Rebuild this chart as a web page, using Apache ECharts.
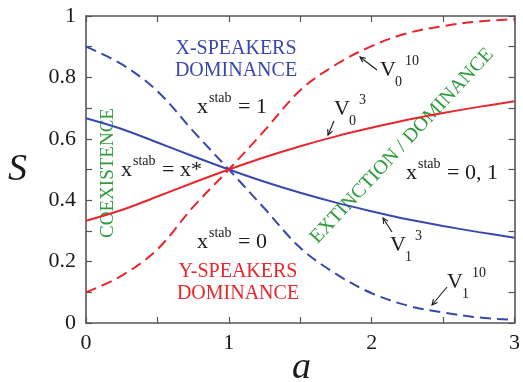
<!DOCTYPE html>
<html>
<head>
<meta charset="utf-8">
<script src="https://cdn.jsdelivr.net/npm/echarts@6/dist/echarts.min.js"></script>
<style>
html,body{margin:0;padding:0;background:#fff;}
#chart{width:523px;height:382px;}
</style>
</head>
<body>
<div id="chart"></div>
<script>
// ---- data ----
const aValues = [0, 0.25, 0.5, 0.75, 1, 1.25, 1.5, 1.75, 2, 2.25, 2.5, 2.75, 3];
const V0_3  = [0.333, 0.368, 0.412, 0.457, 0.5, 0.540, 0.576, 0.608, 0.636, 0.662, 0.684, 0.704, 0.722];
const V1_3  = [0.667, 0.632, 0.588, 0.543, 0.5, 0.460, 0.424, 0.392, 0.364, 0.338, 0.316, 0.296, 0.278];
const V0_10 = [0.10, 0.154, 0.24, 0.378, 0.5, 0.627, 0.758, 0.842, 0.902, 0.944, 0.967, 0.982, 0.99];
const V1_10 = [0.90, 0.843, 0.755, 0.625, 0.5, 0.373, 0.245, 0.16, 0.097, 0.057, 0.034, 0.018, 0.01];
const xTickLabels = ['0', '1', '2', '3'];
const yTickLabels = ['0', '0.2', '0.4', '0.6', '0.8', '1'];

const RED = '#e8262c', BLUE = '#3848ad', GREEN = '#2f9c3c', INK = '#1a1a1a', AX = '#555';
const SERIF = 'Liberation Serif';

const chart = echarts.init(document.getElementById('chart'), null, {renderer: 'canvas'});

function pairs(ys) { return aValues.map((a, i) => [a, ys[i]]); }

function axisCommon() {
  return {
    axisLine: {show: true, onZero: false, lineStyle: {color: AX, width: 1.6}},
    axisTick: {show: true, inside: true, length: 6, lineStyle: {color: AX, width: 1.2}},
    minorTick: {show: true, splitNumber: 2, length: 6, lineStyle: {color: AX, width: 1.2}},
    splitLine: {show: false},
    minorSplitLine: {show: false},
  };
}

function T(text, left, baseline, size, color, italic) {
  return {
    type: 'text', silent: true,
    style: {
      text: text, x: left, y: baseline - 0.34 * size,
      fontSize: size, fontFamily: SERIF, fontStyle: italic ? 'italic' : 'normal',
      fill: color, textAlign: 'left', textVerticalAlign: 'middle'
    }
  };
}
function C(text, cx, cy, size, color, rot) {
  return {
    type: 'text', silent: true, x: cx, y: cy, rotation: rot || 0,
    style: {
      text: text, x: 0, y: 0, fontSize: size, fontFamily: SERIF,
      fill: color, textAlign: 'center', textVerticalAlign: 'middle'
    }
  };
}
function arrow(x1, y1, x2, y2) {
  const ang = Math.atan2(y2 - y1, x2 - x1), L = 6, s = 0.45;
  const p1 = [x2 - L * Math.cos(ang - s), y2 - L * Math.sin(ang - s)];
  const p2 = [x2 - L * Math.cos(ang + s), y2 - L * Math.sin(ang + s)];
  return [
    {type: 'line', silent: true, shape: {x1: x1, y1: y1, x2: x2, y2: y2}, style: {stroke: INK, lineWidth: 1.1}},
    {type: 'polyline', silent: true, shape: {points: [p1, [x2, y2], p2]}, style: {stroke: INK, lineWidth: 1.1, fill: null}}
  ];
}
function xstab(left, baseline, rhs) {
  return [
    T('x', left, baseline, 22, INK),
    T('stab', left + 12, baseline - 12, 14, INK),
    T(rhs, left + 41, baseline, 22, INK)
  ];
}
function V(left, baseline, sub, sup) {
  return [
    T('V', left, baseline, 22, INK),
    T(sub, left + 15, baseline + 9, 14, INK),
    T(sup, left + 25, baseline - 12, 14, INK)
  ];
}

const graphics = [].concat(
  [C('X-SPEAKERS', 236, 49, 20, BLUE), C('DOMINANCE', 236, 70.5, 20, BLUE)],
  [C('Y-SPEAKERS', 238, 271.5, 20, RED), C('DOMINANCE', 238, 293.5, 20, RED)],
  [C('COEXISTENCE', 108, 173, 19, GREEN, Math.PI / 2)],
  [C('EXTINCTION / DOMINANCE', 402, 146, 20, GREEN, 47 * Math.PI / 180)],
  xstab(197, 115, '= 1'),
  xstab(121, 178, '= x*'),
  xstab(197, 250, '= 0'),
  xstab(406, 181, '= 0, 1'),
  V(334, 117, '0', '3'),
  V(380, 78, '0', '10'),
  V(390, 253, '1', '3'),
  V(447, 290, '1', '10'),
  arrow(334, 121, 328, 135),
  arrow(377, 70, 360, 57),
  arrow(392, 232, 383, 218),
  arrow(447, 287, 432, 305),
  [T('S', 8, 183, 38, INK, true), T('a', 292, 381, 38, INK, true)]
);

const labelStyle = {color: INK, fontSize: 22, fontFamily: SERIF};

const option = {
  animation: false,
  backgroundColor: '#fff',
  grid: {left: 86, right: 8, top: 16, bottom: 59, containLabel: false},
  xAxis: [
    Object.assign({
      type: 'value', min: 0, max: 3, interval: 1, position: 'bottom',
      axisLabel: Object.assign({show: true, margin: 9,
        formatter: v => xTickLabels[Math.round(v)]}, labelStyle)
    }, axisCommon()),
    Object.assign({
      type: 'value', min: 0, max: 3, interval: 1, position: 'top',
      axisLabel: {show: false}
    }, axisCommon())
  ],
  yAxis: [
    Object.assign({
      type: 'value', min: 0, max: 1, interval: 0.2, position: 'left',
      axisLabel: Object.assign({show: true, margin: 10,
        formatter: v => yTickLabels[Math.round(v * 5)]}, labelStyle)
    }, axisCommon()),
    Object.assign({
      type: 'value', min: 0, max: 1, interval: 0.2, position: 'right',
      axisLabel: {show: false}
    }, axisCommon())
  ],
  series: [
    {name: 'V1^10', type: 'line', data: pairs(V1_10), smooth: 0.35, symbol: 'none',
     lineStyle: {color: BLUE, width: 2, type: [11, 6]}},
    {name: 'V1^3', type: 'line', data: pairs(V1_3), smooth: 0.35, symbol: 'none',
     lineStyle: {color: BLUE, width: 2}},
    {name: 'V0^10', type: 'line', data: pairs(V0_10), smooth: 0.35, symbol: 'none',
     lineStyle: {color: RED, width: 2, type: [11, 6]}},
    {name: 'V0^3', type: 'line', data: pairs(V0_3), smooth: 0.35, symbol: 'none',
     lineStyle: {color: RED, width: 2}}
  ],
  graphic: graphics
};
chart.setOption(option);
</script>
</body>
</html>
